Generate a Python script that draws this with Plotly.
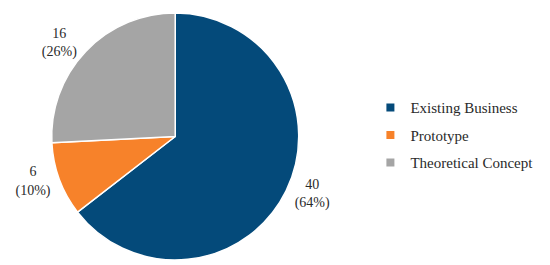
import plotly.graph_objects as go

# Stage of the business idea
categorias = ["Existing Business", "Prototype", "Theoretical Concept"]
valores = [40, 6, 16]
percentuais = [64, 10, 26]  # as printed on the chart
cores = ["#044a7a", "#f7822a", "#a5a5a5"]

rotulos = [f"{v}<br>({p}%)" for v, p in zip(valores, percentuais)]

fig = go.Figure()

fig.add_trace(
    go.Pie(
        labels=categorias,
        values=valores,
        text=rotulos,
        sort=False,
        direction="clockwise",
        rotation=0,
        marker=dict(colors=cores, line=dict(color="white", width=1.5)),
        textposition="outside",
        textinfo="text",
        textfont=dict(size=14, color="#2a2a2a"),
        domain=dict(x=[0.0, 0.49], y=[0.05, 1.0]),
        showlegend=False,
    )
)

# legenda feita com traços vazios para controlar o espaçamento
for nome, cor in zip(categorias, cores):
    fig.add_trace(
        go.Scatter(
            x=[None], y=[None],
            mode="markers",
            marker=dict(symbol="square", size=8, color=cor),
            name=nome,
            legendgroup=nome,
        )
    )

fig.update_layout(
    width=550,
    height=265,
    margin=dict(l=0, r=0, t=0, b=0),
    font=dict(family="Liberation Serif, DejaVu Serif, serif", size=15, color="#2a2a2a"),
    paper_bgcolor="white",
    plot_bgcolor="white",
    xaxis=dict(visible=False),
    yaxis=dict(visible=False),
    legend=dict(
        x=0.63,
        y=0.53,
        xanchor="left",
        yanchor="middle",
        itemwidth=30,
        tracegroupgap=5,
    ),
)

fig.write_html("out.html")
